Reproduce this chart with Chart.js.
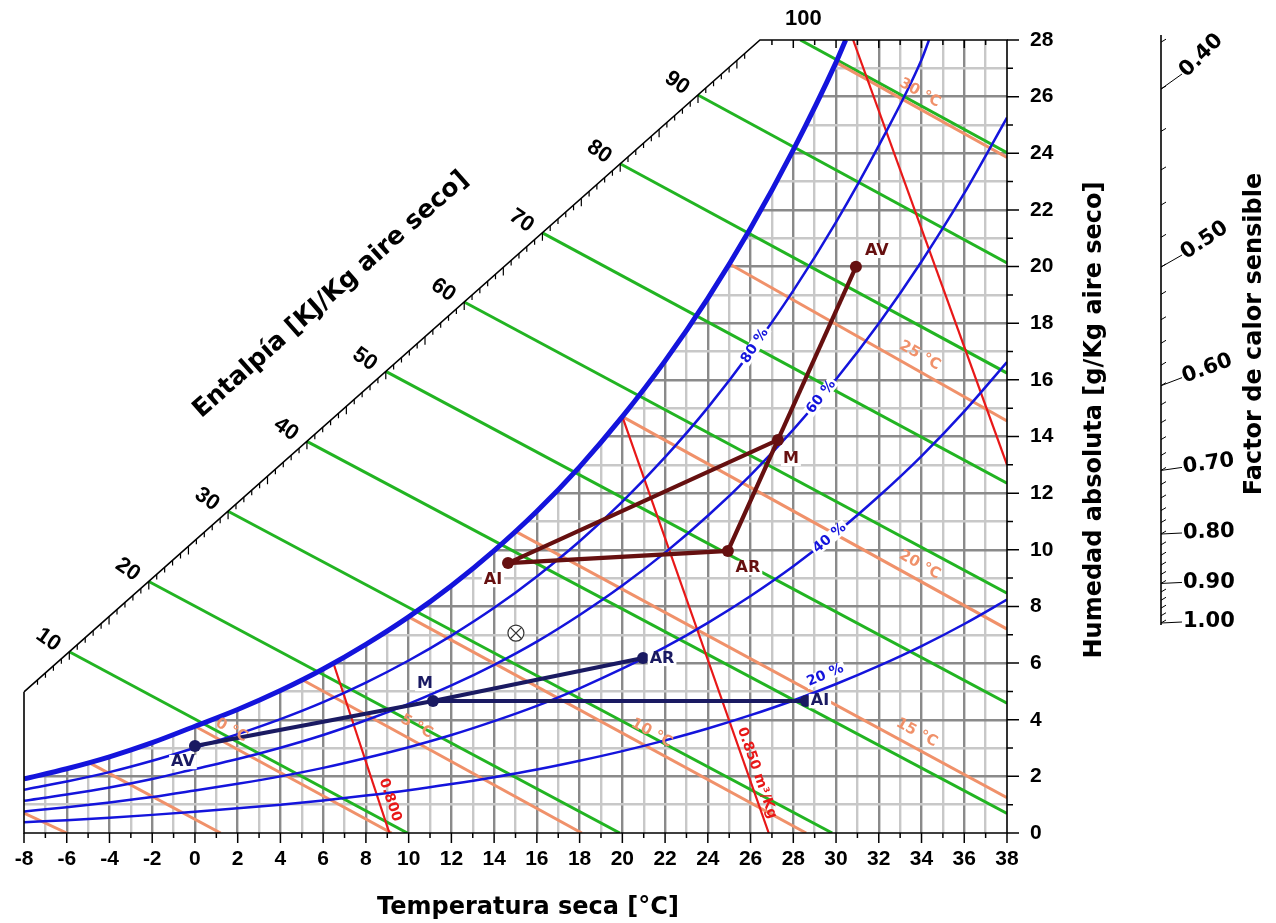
<!DOCTYPE html>
<html>
<head>
<meta charset="utf-8">
<script src="https://cdn.jsdelivr.net/npm/chart.js@4.4.0/dist/chart.umd.min.js"></script>
<style>html,body{margin:0;padding:0;background:#fff;}canvas{display:block;}</style>
</head>
<body>
<canvas id="c" width="1276" height="923" style="width:1276px;height:923px"></canvas>
<script>
// ================= DATA =================
// Saturation curve (100 % RH): dry bulb [°C] and humidity ratio [g/kg]
const satT = [-8,-6,-4,-2,0,2,4,6,8,10,12,14,16,18,20,22,24,26,28,30,30.45];
const satW = [1.91,2.27,2.69,3.19,3.77,4.36,5.03,5.79,6.66,7.63,8.73,9.97,11.36,12.93,14.70,16.67,18.88,21.35,24.12,27.21,28.0];
// Relative humidity curves
const rh80T = [-8,-6,-4,-2,0,2,4,6,8,10,12,14,16,18,20,22,24,26,28,30,32,34,34.35];
const rh80W = [1.53,1.82,2.15,2.55,3.01,3.49,4.02,4.62,5.31,6.09,6.97,7.95,9.06,10.30,11.70,13.27,15.02,16.98,19.15,21.57,24.27,27.30,28.0];
const rhT   = [-8,-6,-4,-2,0,2,4,6,8,10,12,14,16,18,20,22,24,26,28,30,32,34,36,38];
const rh60W = [1.14,1.36,1.61,1.91,2.26,2.61,3.01,3.46,3.98,4.56,5.21,5.94,6.76,7.70,8.74,9.90,11.20,12.64,14.24,16.02,17.99,20.18,22.59,25.26];
const rh40W = [0.76,0.91,1.08,1.27,1.50,1.74,2.00,2.30,2.65,3.03,3.46,3.95,4.49,5.11,5.80,6.56,7.42,8.37,9.42,10.59,11.89,13.31,14.89,16.63];
const rh20W = [0.38,0.45,0.54,0.64,0.75,0.87,1.00,1.15,1.32,1.51,1.73,1.97,2.24,2.55,2.89,3.27,3.69,4.16,4.68,5.26,5.90,6.60,7.38,8.24];
const rhLabels = ['80 %','60 %','40 %','20 %'];
// Enthalpy lines [kJ/kg]: start on the enthalpy scale, end on bottom/right edge
const enthalpyVals = [10,20,30,40,50,60,70,80,90,100];
const hStartT = [-5.88,-2.16,1.55,5.24,8.93,12.60,16.26,19.90,23.54,28.33];
const hStartW = [6.40,8.88,11.36,13.83,16.30,18.75,21.19,23.63,26.06,28.00];
const hEndT   = [9.94,19.88,29.82,38,38,38,38,38,38,38];
const hEndW   = [0,0,0,0.69,4.58,8.47,12.35,16.24,20.13,24.02];
// Wet bulb lines [°C]
const wbVals   = [-10,-5,0,5,10,15,20,25,30];
const wbLabels = ['','','0 °C','5 °C','10 °C','15 °C','20 °C','25 °C','30 °C'];
const wbStartT = [-8,-5,0,5,10,15,20,25,30];
const wbStartW = [0.70,2.50,3.77,5.42,7.63,10.65,14.70,20.10,27.21];
const wbEndT   = [-6.0,1.2,9.2,18.1,28.6,38,38,38,38];
const wbEndW   = [0,0,0,0,0,1.25,7.20,14.55,23.85];
// Specific volume lines [m³/kg]
const volLabels = ['0.800','0.850 m³/Kg',''];
const volStartT = [6.5,20.0,30.8];
const volStartW = [5.95,14.70,28.0];
const volEndT   = [9.1,26.85,38];
const volEndW   = [0,0,13.0];
// Process points
const brownNames = ['AI','AR','M','AV'];
const brownT = [14.65,24.94,27.28,30.93];
const brownW = [9.53,9.96,13.88,19.99];
const navyNames = ['AV','M','AR','AI'];
const navyT = [0.0,11.14,20.97,28.59];
const navyW = [3.07,4.66,6.18,4.66];
const markT = [15.02];
const markW = [7.06];
// Sensible heat factor scale
const shfValues = [0.40,0.50,0.60,0.70,0.80,0.90,1.00];
const shfLabels = ['0.40','0.50','0.60','0.70','0.80','0.90','1.00'];

// ================= STYLE / LAYOUT =================
const BLUE='#1414dc', GREEN='#22b422', ORANGE='#f0916a', RED='#e81818', BROWN='#661010', NAVY='#1a1a62';
const DV="'DejaVu Sans'", LS="'Liberation Sans'";
const diagStart=[-8,4.98], diagEnd=[26.44,28];
const rhLabelT=[26.2,29.3,29.7,29.5], rhLabelAng=[-57,-52,-40,-23], rhLabelDy=[0,0,0,-13];
const wbLabelT=[0,0,1.4,10.06,21.06,33.46,33.6,33.6,33.6];
const volLabelPos=[[390,800,71.7],[757,773,70.7]];
const brownDx=[-15,20,13,21], brownDy=[17,17,19,-16];
const navyDx=[-12,-8,19,14], navyDy=[16,-17,1,0];
const shfLead=[15,12,8,3,1,1,1], shfAng=[-45,-34,-20,-8,-2,0,0];

const pts=(T,W)=>T.map((t,i)=>({x:t,y:W[i]}));
const seg=(t0,w0,t1,w1)=>[{x:t0,y:w0},{x:t1,y:w1}];
function ln(data,color,width,order,extra){
  return Object.assign({data,borderColor:color,borderWidth:width,pointRadius:0,fill:false,order,tension:0,spanGaps:true},extra||{});
}
const datasets=[];
datasets.push(ln(pts(satT,satW),'rgba(0,0,0,0)',0,100,{fill:'end',backgroundColor:'#ffffff',cubicInterpolationMode:'monotone'}));
enthalpyVals.forEach((h,i)=>datasets.push(ln(seg(hStartT[i],hStartW[i],hEndT[i],hEndW[i]),GREEN,3,60)));
wbVals.forEach((v,i)=>datasets.push(ln(seg(wbStartT[i],wbStartW[i],wbEndT[i],wbEndW[i]),ORANGE,3,55)));
volStartT.forEach((v,i)=>datasets.push(ln(seg(volStartT[i],volStartW[i],volEndT[i],volEndW[i]),RED,2.2,50)));
const rhSeries=[[rh80T,rh80W],[rhT,rh60W],[rhT,rh40W],[rhT,rh20W]];
rhSeries.forEach(s=>datasets.push(ln(pts(s[0],s[1]),BLUE,2.5,40,{cubicInterpolationMode:'monotone'})));
datasets.push(ln(pts(satT,satW),BLUE,5,35,{cubicInterpolationMode:'monotone'}));
// process lines
const bp=pts(brownT,brownW), np=pts(navyT,navyW);
datasets.push(ln([bp[0],bp[1],bp[2],bp[0]],BROWN,4.2,10));
datasets.push(ln([bp[2],bp[3]],BROWN,4.2,10));
datasets.push(ln([np[0],np[1],np[2]],NAVY,4.2,10));
datasets.push(ln([np[1],np[3]],NAVY,4.2,10));
datasets.push(ln(bp,BROWN,0,5,{showLine:false,pointRadius:6,pointBackgroundColor:BROWN,pointBorderColor:BROWN}));
datasets.push(ln(np,NAVY,0,5,{showLine:false,pointRadius:6,pointBackgroundColor:NAVY,pointBorderColor:NAVY}));
datasets.push(ln(pts(markT,markW),'#333',1.2,2,{showLine:false,pointRadius:8,pointStyle:'circle',pointBackgroundColor:'#fff',pointBorderColor:'#333',pointBorderWidth:1.2}));
datasets.push(ln(pts(markT,markW),'#333',1.2,1,{showLine:false,pointRadius:8,pointStyle:'crossRot',pointBorderColor:'#333',pointBorderWidth:1.2}));

function gridCol(v,a,b){ if(v===a||v===b) return 'rgba(0,0,0,0)'; return Math.abs(v)%2===0?'#8a8a8a':'#c8c8c8'; }
function interp(T,W,t){ for(let i=0;i<T.length-1;i++){ if(t>=T[i]&&t<=T[i+1]) return W[i]+(t-T[i])/(T[i+1]-T[i])*(W[i+1]-W[i]); } return W[W.length-1]; }

function txt(ctx,s,x,y,o){
  const font=o.font, color=o.color||'#000', angle=o.angle||0, align=o.align||'center';
  ctx.save(); ctx.translate(x,y); ctx.rotate(angle*Math.PI/180);
  ctx.font=font; ctx.textAlign=align; ctx.textBaseline='middle';
  if(o.bg){ const w=ctx.measureText(s).width; const h=parseFloat(font.match(/([\d.]+)px/)[1]);
    const x0=align==='center'?-w/2:(align==='left'?0:-w); ctx.fillStyle=o.bg; ctx.fillRect(x0-2,-h*0.45,w+4,h*0.9); }
  ctx.fillStyle=color; ctx.fillText(s,0,0); ctx.restore();
}

const decor={
  id:'decor',
  afterDatasetsDraw(chart){
    const ctx=chart.ctx, xs=chart.scales.x, ys=chart.scales.y;
    const X=v=>xs.getPixelForValue(v), Y=v=>ys.getPixelForValue(v);
    ctx.save();
    // axes frame
    ctx.strokeStyle='#000'; ctx.lineWidth=1.6;
    ctx.beginPath();
    ctx.moveTo(X(diagStart[0]),Y(diagStart[1])); ctx.lineTo(X(-8),Y(0)); ctx.lineTo(X(38),Y(0));
    ctx.lineTo(X(38),Y(28)); ctx.lineTo(X(diagEnd[0]),Y(28)); ctx.lineTo(X(diagStart[0]),Y(diagStart[1]));
    ctx.stroke();
    ctx.lineWidth=1.5; ctx.beginPath();
    for(let v=-8;v<=38;v++){ const l=v%2===0?10:5; ctx.moveTo(X(v),Y(0)); ctx.lineTo(X(v),Y(0)+l); }
    for(let v=0;v<=28;v++){ const l=v%2===0?12:6; ctx.moveTo(X(38),Y(v)); ctx.lineTo(X(38)+l,Y(v)); }
    for(let v=Math.ceil(diagEnd[0]);v<38;v++){ const l=v%2===0?8:5; ctx.moveTo(X(v),Y(28)); ctx.lineTo(X(v),Y(28)+l); }
    ctx.stroke();
    // enthalpy scale ticks
    const hp=(h)=>{ let k=Math.floor(h/10)-1; k=Math.max(0,Math.min(7,k));
      const f=(h-enthalpyVals[k])/(enthalpyVals[k+1]-enthalpyVals[k]);
      return [hStartT[k]+f*(hStartT[k+1]-hStartT[k]), hStartW[k]+f*(hStartW[k+1]-hStartW[k])]; };
    ctx.lineWidth=1.2; ctx.beginPath();
    for(let h=1;h<100;h++){ const p=hp(h); if(p[0]<diagStart[0]+0.3||p[1]>27.7) continue;
      const l=h%5===0?8:5; ctx.moveTo(X(p[0]),Y(p[1])); ctx.lineTo(X(p[0]),Y(p[1])+l); }
    ctx.stroke();
    for(let i=0;i<9;i++){ txt(ctx,String(enthalpyVals[i]),X(hStartT[i])-21,Y(hStartW[i])-12,{font:`bold 22px ${LS}`,angle:35}); }
    txt(ctx,'100',X(hStartT[9])+3,Y(28)-21,{font:`bold 22px ${LS}`});
    // RH labels (placed on their curves)
    rhLabels.forEach((s,i)=>{ const t=rhLabelT[i]; const w=interp(rhSeries[i][0],rhSeries[i][1],t);
      txt(ctx,s,X(t),Y(w)+rhLabelDy[i],{font:`bold 14px ${DV}`,color:BLUE,angle:rhLabelAng[i],bg:'#fff'}); });
    // wet bulb labels
    wbLabels.forEach((s,i)=>{ if(!s) return; const t=wbLabelT[i];
      const f=(t-wbStartT[i])/(wbEndT[i]-wbStartT[i]); const w=wbStartW[i]+f*(wbEndW[i]-wbStartW[i]);
      const ang=Math.atan2(Y(wbEndW[i])-Y(wbStartW[i]),X(wbEndT[i])-X(wbStartT[i]));
      txt(ctx,s,X(t)+14*Math.sin(ang),Y(w)-14*Math.cos(ang),{font:`bold 15px ${DV}`,color:ORANGE,angle:ang*180/Math.PI}); });
    // volume labels
    volLabels.forEach((s,i)=>{ if(!s) return; const p=volLabelPos[i]; txt(ctx,s,p[0],p[1],{font:`bold 14px ${DV}`,color:RED,angle:p[2]}); });
    // process labels
    brownNames.forEach((s,i)=>txt(ctx,s,X(brownT[i])+brownDx[i],Y(brownW[i])+brownDy[i],{font:`bold 16px ${DV}`,color:BROWN,bg:'#fff'}));
    navyNames.forEach((s,i)=>txt(ctx,s,X(navyT[i])+navyDx[i],Y(navyW[i])+navyDy[i],{font:`bold 16px ${DV}`,color:NAVY,bg:'#fff'}));
    // titles
    txt(ctx,'Temperatura seca [°C]',528,908,{font:`bold 24px ${DV}`});
    txt(ctx,'Humedad absoluta [g/Kg aire seco]',1095,420,{font:`bold 24px ${DV}`,angle:-90});
    txt(ctx,'Factor de calor sensible',1255,334,{font:`bold 24px ${DV}`,angle:-90});
    txt(ctx,'Entalpía [KJ/Kg aire seco]',331,295,{font:`bold 25px ${DV}`,angle:-41.5});
    // sensible heat factor scale
    const sx=1161, shfY=s=>623-356*(1/s-1);
    ctx.lineWidth=1.6; ctx.beginPath(); ctx.moveTo(sx,35); ctx.lineTo(sx,625); ctx.stroke();
    ctx.lineWidth=1; ctx.beginPath();
    for(let k=19;k<=50;k++){ const yy=shfY(k*0.02); if(yy<36) continue; ctx.moveTo(sx,yy); ctx.lineTo(sx+5,yy-3); }
    ctx.stroke();
    shfValues.forEach((s,i)=>{ const yy=shfY(s); const ey=yy-shfLead[i];
      ctx.beginPath(); ctx.moveTo(sx,yy); ctx.lineTo(sx+21,ey); ctx.stroke();
      txt(ctx,shfLabels[i],sx+22,ey,{font:`bold 21px ${DV}`,align:'left',angle:shfAng[i]}); });
    ctx.restore();
  }
};

const tickFont={family:'Liberation Sans',size:21,weight:'bold'};
new Chart(document.getElementById('c'),{
  type:'line',
  data:{datasets},
  options:{
    responsive:false, animation:false, devicePixelRatio:1,
    layout:{padding:{left:24,top:40,right:0,bottom:0}},
    plugins:{legend:{display:false},tooltip:{enabled:false},title:{display:false}},
    scales:{
      x:{type:'linear',min:-8,max:38,position:'bottom',
        ticks:{stepSize:1,autoSkip:false,maxTicksLimit:100,maxRotation:0,minRotation:0,padding:14,color:'#000',font:tickFont,
          callback:v=>(Math.abs(v)%2===0?String(v):'')},
        grid:{color:c=>gridCol(c.tick.value,-8,38),lineWidth:2.4,drawTicks:false},
        border:{display:false},
        afterFit:s=>{s.height=90;}},
      y:{type:'linear',min:0,max:28,position:'right',
        ticks:{stepSize:1,autoSkip:false,maxTicksLimit:100,padding:23,color:'#000',font:tickFont,
          callback:v=>(v%2===0?String(v):'')},
        grid:{color:c=>gridCol(c.tick.value,0,28),lineWidth:2.4,drawTicks:false},
        border:{display:false},
        afterFit:s=>{s.width=269;}}
    }
  },
  plugins:[decor]
});
</script>
</body>
</html>
